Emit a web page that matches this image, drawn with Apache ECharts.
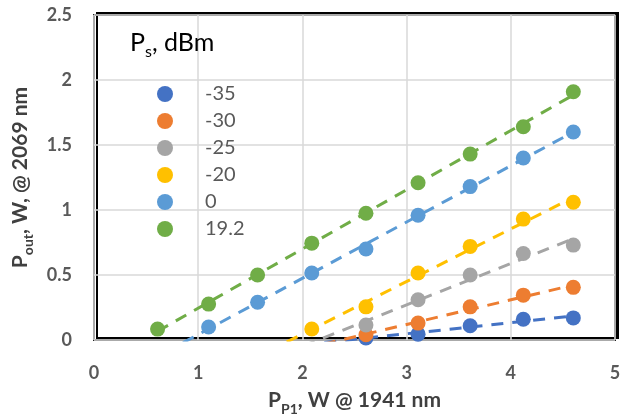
<!DOCTYPE html>
<html>
<head>
<meta charset="utf-8">
<script src="https://cdn.jsdelivr.net/npm/echarts@6/dist/echarts.min.js"></script>
<style>
html,body{margin:0;padding:0;background:#fff;}
#c{width:633px;height:418px;}
</style>
</head>
<body>
<div id="c"></div>
<script>
// ---- data ----
var seriesNames = ['-35', '-30', '-25', '-20', '0', '19.2'];
var xNeg35 = [2.61, 3.11, 3.61, 4.12, 4.60];
var yNeg35 = [0.015, 0.045, 0.11, 0.16, 0.17];
var xNeg30 = [2.61, 3.11, 3.61, 4.12, 4.60];
var yNeg30 = [0.04, 0.13, 0.255, 0.345, 0.405];
var xNeg25 = [2.61, 3.11, 3.61, 4.12, 4.60];
var yNeg25 = [0.115, 0.31, 0.50, 0.665, 0.73];
var xNeg20 = [2.09, 2.61, 3.11, 3.61, 4.12, 4.60];
var yNeg20 = [0.085, 0.255, 0.515, 0.72, 0.93, 1.06];
var x0 = [1.10, 1.57, 2.09, 2.61, 3.11, 3.61, 4.12, 4.60];
var y0 = [0.10, 0.29, 0.515, 0.70, 0.96, 1.18, 1.40, 1.60];
var x19 = [0.61, 1.10, 1.57, 2.09, 2.61, 3.11, 3.61, 4.12, 4.60];
var y19 = [0.084, 0.276, 0.50, 0.745, 0.975, 1.21, 1.43, 1.64, 1.91];
var trendBackward = [0.6, 0.6, 0.6, 0.6, 0.6, 0];
var xTicks = [0, 1, 2, 3, 4, 5];
var yTicks = [0, 0.5, 1, 1.5, 2, 2.5];

var colors = ['#4472C4', '#ED7D31', '#A5A5A5', '#FFC000', '#5B9BD5', '#70AD47'];
var xs = [xNeg35, xNeg30, xNeg25, xNeg20, x0, x19];
var ys = [yNeg35, yNeg30, yNeg25, yNeg20, y0, y19];

function fit(x, y) {
  var n = x.length, sx = 0, sy = 0, sxx = 0, sxy = 0;
  for (var i = 0; i < n; i++) { sx += x[i]; sy += y[i]; sxx += x[i]*x[i]; sxy += x[i]*y[i]; }
  var b = (n*sxy - sx*sy) / (n*sxx - sx*sx);
  var a = (sy - b*sx) / n;
  return {a: a, b: b};
}

var series = [];
for (var i = 0; i < 6; i++) {
  var f = fit(xs[i], ys[i]);
  var xa = xs[i][0] - trendBackward[i];
  var xb = xs[i][xs[i].length - 1];
  series.push({
    type: 'line', name: 'trend' + i, silent: true, symbol: 'none', clip: true, z: 2,
    data: [[xa, f.a + f.b*xa], [xb, f.a + f.b*xb]],
    lineStyle: {color: colors[i], width: 3, type: [12, 9]}
  });
}
for (var m = 0; m < 6; m++) {
  (function (m) {
    series.push({
      type: 'scatter', name: seriesNames[m], symbol: 'circle', symbolSize: 15, z: 3,
      itemStyle: {color: colors[m], opacity: 1},
      data: xs[m].map(function (v, k) { return [v, ys[m][k]]; })
    });
  })(m);
}

var FONT = 'Lato, "Liberation Sans", sans-serif';
var nameRich = {
  a: {fontFamily: FONT, fontSize: 21, fontWeight: 'bold', color: '#404040', verticalAlign: 'bottom', lineHeight: 26},
  s: {fontFamily: FONT, fontSize: 14, fontWeight: 'bold', color: '#404040', verticalAlign: 'bottom', lineHeight: 18, padding: [0,0,-5,0]}
};
var chart = echarts.init(document.getElementById('c'), null, {renderer: 'canvas'});
chart.setOption({
  animation: false,
  backgroundColor: '#fff',
  grid: {
    left: 94, right: 18, top: 15, bottom: 78, show: true,
    containLabel: false, outerBoundsMode: 'none',
    backgroundColor: '#fff', borderColor: '#222', borderWidth: 2,
    shadowColor: '#000', shadowBlur: 0, shadowOffsetX: 3, shadowOffsetY: -2
  },
  legend: {
    data: seriesNames, orient: 'vertical', left: 157, top: 84, padding: 0,
    itemWidth: 16, itemHeight: 16, itemGap: 7, icon: 'circle',
    textStyle: {fontFamily: FONT, fontSize: 20, color: '#595959', padding: [0, 0, 0, 27], lineHeight: 16}
  },
  graphic: [{
    type: 'text', left: 130, top: 30, z: 10,
    style: {
      text: '{a|P}{s|s}{a|, dBm}',
      rich: {
        a: {fontFamily: FONT, fontSize: 25, fill: '#000', lineHeight: 30, verticalAlign: 'bottom'},
        s: {fontFamily: FONT, fontSize: 16, fill: '#000', lineHeight: 22, verticalAlign: 'bottom', padding: [0,0,-5,0]}
      }
    }
  }],
  xAxis: {
    type: 'value', min: xTicks[0], max: xTicks[xTicks.length-1], interval: 1,
    name: '{a|P}{s|P1}{a|, W @ 1941 nm}', nameLocation: 'middle', nameGap: 45,
    nameTextStyle: {rich: nameRich},
    axisLine: {show: false}, axisTick: {show: false},
    axisLabel: {fontFamily: FONT, fontSize: 18, fontWeight: 'bold', color: '#595959', margin: 24},
    splitLine: {show: true, lineStyle: {color: '#D9D9D9', width: 1.5}}
  },
  yAxis: {
    type: 'value', min: yTicks[0], max: yTicks[yTicks.length-1], interval: 0.5,
    name: '{a|P}{s|out}{a|, W, @ 2069 nm}', nameLocation: 'middle', nameGap: 55, nameRotate: 90,
    nameTextStyle: {rich: nameRich},
    axisLine: {show: false}, axisTick: {show: false},
    axisLabel: {fontFamily: FONT, fontSize: 18, fontWeight: 'bold', color: '#595959', margin: 22},
    splitLine: {show: true, lineStyle: {color: '#D9D9D9', width: 1.5}}
  },
  series: series
});
</script>
</body>
</html>
